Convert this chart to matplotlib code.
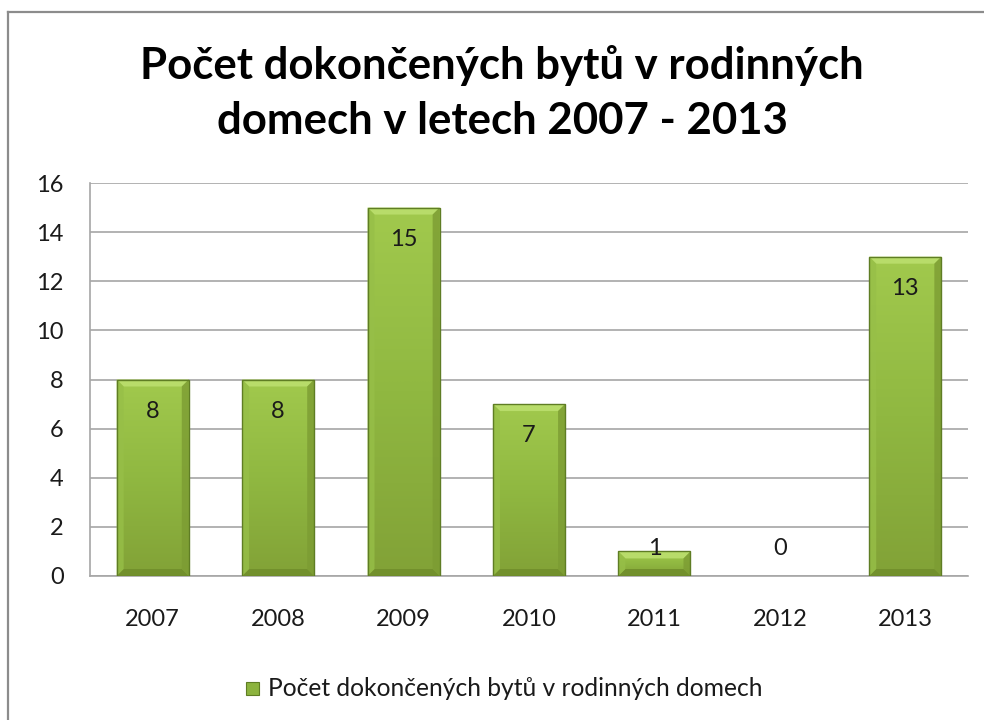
import numpy as np
import matplotlib.pyplot as plt
from matplotlib.lines import Line2D
from matplotlib.patches import Polygon, Rectangle
from matplotlib.colors import LinearSegmentedColormap

plt.rcParams['font.family'] = ['Lato', 'DejaVu Sans']

years = ["2007", "2008", "2009", "2010", "2011", "2012", "2013"]
values = [8, 8, 15, 7, 1, 0, 13]
series_name = "Počet dokončených bytů v rodinných domech"
title = "Počet dokončených bytů v rodinných\ndomech v letech 2007 - 2013"

W, H = 984, 720
fig = plt.figure(figsize=(W / 100, H / 100), dpi=100)
ax = fig.add_axes([90 / W, 1 - 576 / H, (968 - 90) / W, (576 - 183) / H])

# bottom -> top
green = LinearSegmentedColormap.from_list("g", ["#82a237", "#90b841", "#a1c94d"])
x = np.arange(len(years))
bw = 0.575
bars = ax.bar(x, values, width=bw, color="none", edgecolor="none", zorder=3)

# px -> data units
px_x = len(years) / (968 - 90)
px_y = 16 / (576 - 183)
bev = 7
for b, v in zip(bars, values):
    if v <= 0:
        continue
    x0, x1 = b.get_x(), b.get_x() + b.get_width()
    grad = np.linspace(1, 0, 100).reshape(-1, 1)
    im = ax.imshow(grad, cmap=green, aspect="auto", extent=(x0, x1, 0, v),
                   origin="upper", zorder=3, interpolation="bilinear")
    im.set_clip_path(b)
    dx, dy = bev * px_x, min(bev * px_y, v / 3)
    ax.add_patch(Polygon([(x0, v), (x1, v), (x1 - dx, v - dy), (x0 + dx, v - dy)],
                         closed=True, color="#b8dc6a", lw=0, zorder=4))
    ax.add_patch(Polygon([(x0, 0), (x1, 0), (x1 - dx, dy), (x0 + dx, dy)],
                         closed=True, color="#72902c", lw=0, zorder=4))
    ax.add_patch(Polygon([(x0, 0), (x0, v), (x0 + dx, v - dy), (x0 + dx, dy)],
                         closed=True, color="#97bf48", lw=0, alpha=0.8, zorder=4))
    ax.add_patch(Polygon([(x1, 0), (x1, v), (x1 - dx, v - dy), (x1 - dx, dy)],
                         closed=True, color="#7c9c33", lw=0, alpha=0.8, zorder=4))
    ax.add_patch(Rectangle((x0, 0), x1 - x0, v, fill=False, ec="#5f7d24", lw=1.0, zorder=5))

for xi, v in zip(x, values):
    ax.text(xi, max(v - 1.3, 1.1), str(v), ha="center", va="center",
            fontsize=17, color="#1a1a1a", zorder=6)

ax.set_xlim(-0.5, len(years) - 0.5)
ax.set_ylim(0, 16)
ax.set_yticks(range(0, 17, 2))
ax.set_xticks(x)
ax.set_xticklabels(years)
ax.tick_params(axis="both", length=0, labelsize=17, colors="#1a1a1a")
ax.tick_params(axis="y", pad=19)
ax.tick_params(axis="x", pad=24)
ax.grid(axis="y", color="#a6a6a6", lw=1.2, zorder=0)
ax.set_axisbelow(True)
for s in ["top", "right"]:
    ax.spines[s].set_visible(False)
for s in ["left", "bottom"]:
    ax.spines[s].set_color("#a6a6a6")
    ax.spines[s].set_linewidth(1.2)

fig.text(502 / W, 1 - 93 / H, title, ha="center", va="center", fontsize=31.5,
         fontweight="bold", linespacing=1.48)

# legend
fig.add_artist(Rectangle((246 / W, 1 - 695 / H), 13 / W, 13 / H, fc="#8cb33e",
                         ec="#5f7d24", lw=0.8, transform=fig.transFigure))
fig.text(268 / W, 1 - 688 / H, series_name, ha="left", va="center", fontsize=17.7,
         color="#1a1a1a")

# chart frame (left and top edges only, the rest is cut off)
fig.add_artist(Line2D([8 / W, 8 / W], [0, 1 - 12 / H], color="#8c8c8c", lw=1.6))
fig.add_artist(Line2D([8 / W, 1.01], [1 - 12 / H, 1 - 12 / H], color="#8c8c8c", lw=1.6))

fig.savefig("out.png", dpi=100)
